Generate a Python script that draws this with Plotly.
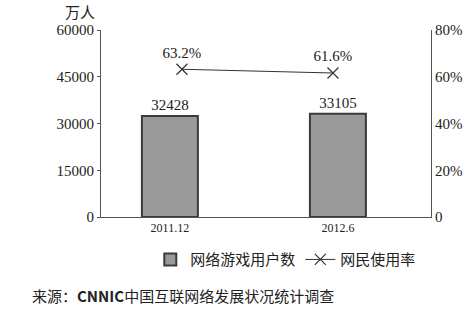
import plotly.graph_objects as go

categories = ["2011.12", "2012.6"]
users = [32428, 33105]
rate = [63.2, 61.6]
left_ticks = [0, 15000, 30000, 45000, 60000]
left_labels = ["0", "15000", "30000", "45000", "60000"]
right_ticks = [0, 20, 40, 60, 80]
right_labels = ["0", "20%", "40%", "60%", "80%"]

serif = "Liberation Serif"
cjk = "Noto Sans CJK SC"

fig = go.Figure()
fig.add_trace(go.Bar(
    x=categories, y=users, name="网络游戏用户数",
    marker=dict(color="#9a9a9a", line=dict(color="#3a3a3a", width=2)),
    width=0.333,
    text=[str(v) for v in users], textposition="outside",
    textfont=dict(family=serif, size=15, color="#222"),
    cliponaxis=False,
))
fig.add_trace(go.Scatter(
    x=categories, y=rate, name="网民使用率", mode="lines+markers+text",
    xaxis="x2", yaxis="y2",
    line=dict(color="#333", width=1),
    marker=dict(symbol="x-thin", size=11, line=dict(color="#333", width=1.2)),
    text=[f"{v}%" for v in rate], textposition="top center",
    textfont=dict(family=serif, size=15, color="#222"),
    cliponaxis=False,
))

fig.update_layout(
    width=466, height=310,
    margin=dict(l=101, r=35, t=30, b=93),
    plot_bgcolor="white", paper_bgcolor="white",
    showlegend=True,
    legend=dict(orientation="h", x=0.56, y=-0.14, xanchor="center", yanchor="top",
                font=dict(family=cjk, size=15, color="#222"),
                itemwidth=30, tracegroupgap=0, bgcolor="rgba(0,0,0,0)"),
    xaxis=dict(type="category", range=[-0.41, 1.554], showline=True,
               linecolor="#555", linewidth=1, ticks="", showgrid=False,
               automargin=False,
               tickfont=dict(family=serif, size=12, color="#222")),
    xaxis2=dict(type="category", overlaying="x", range=[-0.536, 1.649],
                visible=False),
    yaxis=dict(range=[0, 60000], tickvals=left_ticks, ticktext=left_labels,
               showline=True, automargin=False,
               linecolor="#555", linewidth=1, ticks="outside", ticklen=3,
               tickcolor="#555", showgrid=False, zeroline=False,
               tickfont=dict(family=serif, size=15, color="#222")),
    yaxis2=dict(range=[0, 80], overlaying="y", side="right",
                tickvals=right_ticks, ticktext=right_labels, showline=True,
                automargin=False,
                linecolor="#555", linewidth=1, ticks="", showgrid=False,
                zeroline=False,
                tickfont=dict(family=serif, size=15, color="#222")),
    annotations=[
        dict(text="万人", xref="paper", yref="paper", x=-0.012, y=1.0,
             xanchor="right", yanchor="bottom", showarrow=False, yshift=6,
             font=dict(family=cjk, size=15, color="#222")),
        dict(text="来源：<b>CNNIC</b>中国互联网络发展状况统计调查", xref="paper", yref="paper",
             x=-0.215, y=-0.42, xanchor="left", yanchor="middle", showarrow=False,
             font=dict(family=cjk, size=15, color="#222")),
    ],
)

fig.write_html("out.html")
